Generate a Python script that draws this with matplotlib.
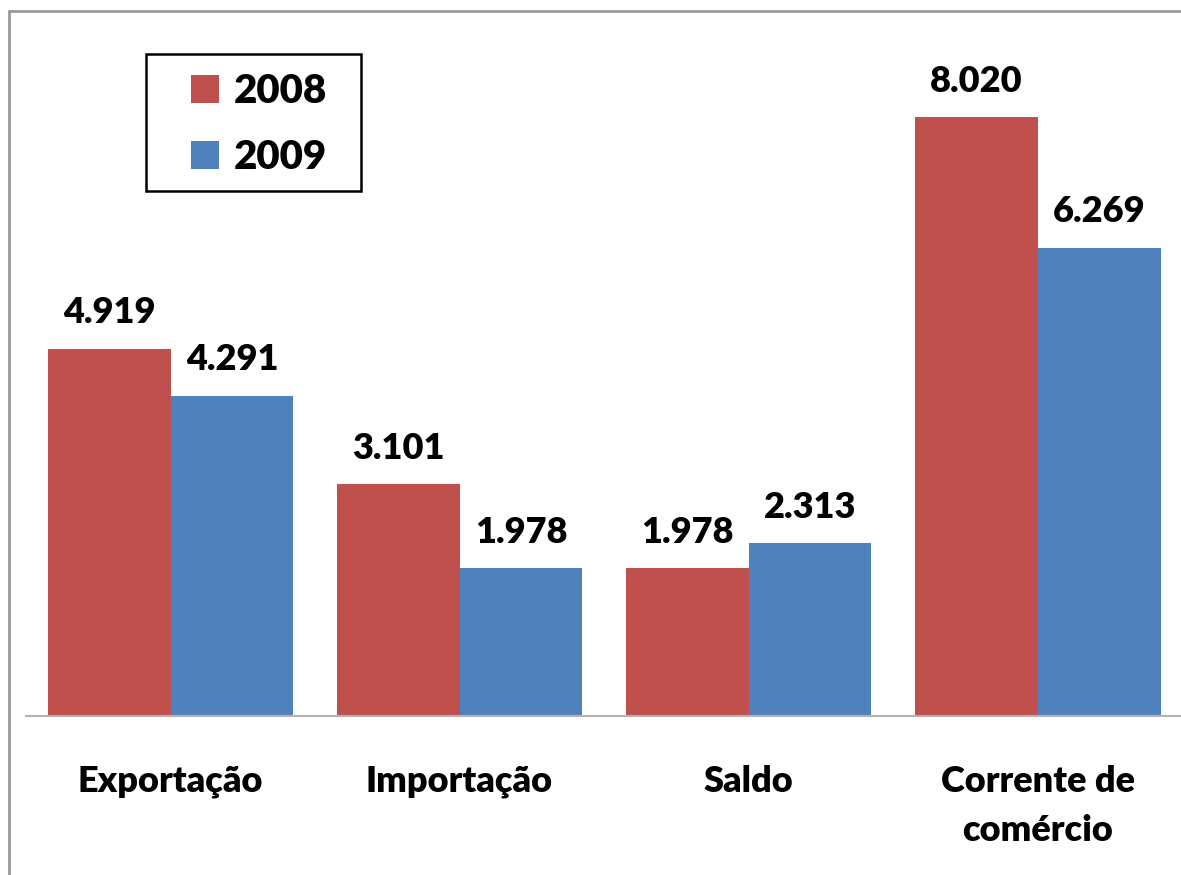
import matplotlib
matplotlib.use("Agg")
import matplotlib.pyplot as plt
import numpy as np
from matplotlib.patches import Rectangle

categories = ["Exportação", "Importação", "Saldo", "Corrente de\ncomércio"]
years = ["2008", "2009"]
values_2008 = [4.919, 3.101, 1.978, 8.020]
values_2009 = [4.291, 1.978, 2.313, 6.269]
colors = ["#C0504D", "#4F81BD"]

plt.rcParams["font.family"] = ["Lato", "DejaVu Sans"]
plt.rcParams["font.weight"] = "heavy"

W, H = 1181, 875
fig = plt.figure(figsize=(W / 100, H / 100), dpi=100)
ax = fig.add_axes([0.022, 0.1817, 0.979, 0.768])

x = np.arange(len(categories))
w = 0.425
for i, (vals, c, lab) in enumerate(zip([values_2008, values_2009], colors, years)):
    pos = x + (i - 0.5) * w
    ax.bar(pos, vals, w, color=c, label=lab)
    for xp, v in zip(pos, vals):
        ax.annotate(f"{v:.3f}", (xp, v), xytext=(0, 14), textcoords="offset points",
                    ha="center", va="bottom", fontsize=26, fontweight="heavy")

ax.set_xlim(-0.5, 3.5)
ax.set_ylim(0, 9)
ax.set_yticks([])
ax.set_xticks(x)
ax.set_xticklabels(categories, fontsize=26, fontweight="heavy", linespacing=1.6)
ax.tick_params(axis="x", length=0, pad=35)
for s in ["top", "right", "left"]:
    ax.spines[s].set_visible(False)
ax.spines["bottom"].set_color("#b3b3b3")
ax.spines["bottom"].set_linewidth(1.5)

# legend without its own frame, box drawn separately (wider side padding)
leg = ax.legend(loc="upper left", bbox_to_anchor=(191 / W, 1 - 73 / H),
                bbox_transform=fig.transFigure, fontsize=29, frameon=False,
                handlelength=0.7, handleheight=0.7, labelspacing=0.72,
                borderpad=0, borderaxespad=0, handletextpad=0.35)
for t in leg.get_texts():
    t.set_fontweight("heavy")
fig.patches.append(Rectangle((146 / W, 1 - 191 / H), 215 / W, 137 / H,
                             transform=fig.transFigure, fill=False,
                             edgecolor="black", linewidth=1.8))

# outer chart border
fig.patches.append(Rectangle((9 / W, -0.05), 1.1, 1 - 11 / H + 0.05,
                             transform=fig.transFigure, fill=False,
                             edgecolor="#999999", linewidth=2))

fig.savefig("out.png", dpi=100)
